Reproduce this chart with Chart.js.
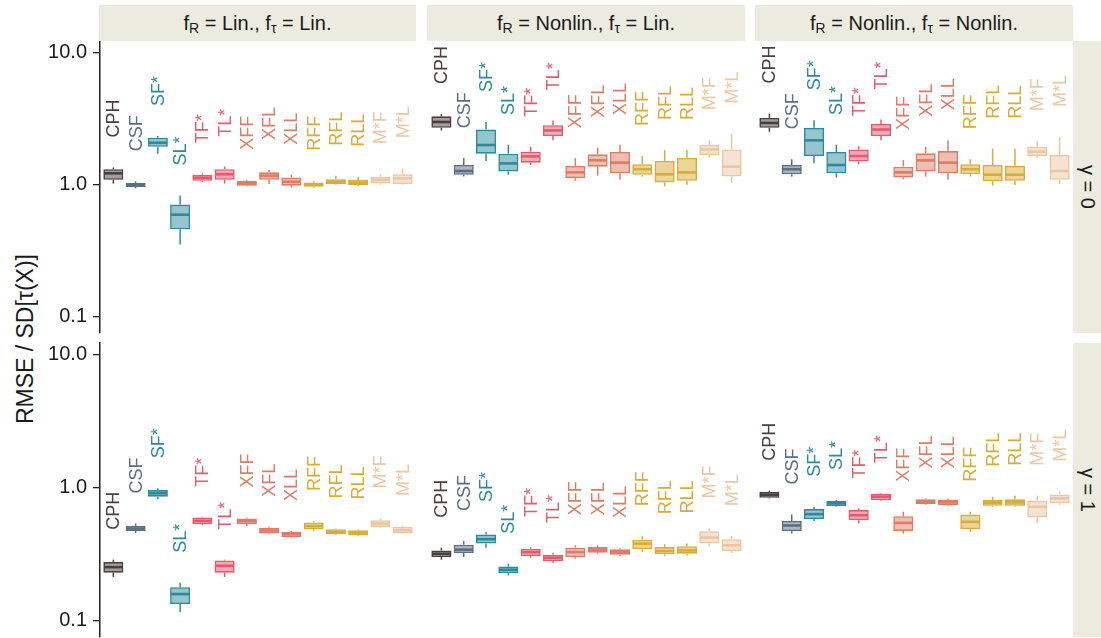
<!DOCTYPE html>
<html><head><meta charset="utf-8">
<script src="https://cdn.jsdelivr.net/npm/chart.js@4.4.1/dist/chart.umd.min.js"></script>
<style>
body{margin:0;width:1101px;height:638px;position:relative;background:#fff;font-family:"Liberation Sans",Arial,sans-serif;overflow:hidden}
canvas{position:absolute}
.strip{position:absolute;background:#ECEBDF;display:flex;align-items:center;justify-content:center;font-size:20px;color:#1a1a1a;white-space:pre}
.strip sub{font-size:14px;vertical-align:baseline;position:relative;top:5px}
.rstrip span{writing-mode:vertical-rl}
#ytitle{position:absolute;left:0;width:50px;top:41px;height:596px;display:flex;align-items:center;justify-content:center}
#ytitle span{writing-mode:vertical-rl;transform:rotate(180deg);font-size:23px;color:#1a1a1a;white-space:pre}
</style></head>
<body>
<div id="ytitle"><span>RMSE / SD[τ(X)]</span></div>
<script>
// ---------- data ----------
const categories = ['CPH','CSF','SF*','SL*','TF*','TL*','XFF','XFL','XLL','RFF','RFL','RLL','M*F','M*L'];
const colTitles = ['f<sub>R</sub> = Lin., f<sub>τ</sub> = Lin.','f<sub>R</sub> = Nonlin., f<sub>τ</sub> = Lin.','f<sub>R</sub> = Nonlin., f<sub>τ</sub> = Nonlin.'];
const rowTitles = ['γ = 0','γ = 1'];
const yTicks = [0.1, 1, 10];
// each box: [lower whisker, q1, median, q3, upper whisker]
const linLin_g0 = [[1.02,1.09,1.22,1.31,1.35],[0.94,0.96,0.99,1.03,1.06],[1.72,1.94,2.08,2.27,2.34],[0.352,0.459,0.592,0.707,0.827],[1.05,1.07,1.13,1.19,1.22],[1.02,1.09,1.20,1.31,1.37],[0.97,0.983,1.03,1.07,1.09],[1.01,1.09,1.17,1.24,1.29],[0.954,0.983,1.053,1.135,1.19],[0.944,0.966,1.005,1.04,1.07],[1.0,1.01,1.053,1.10,1.17],[0.978,0.995,1.035,1.085,1.15],[1.0,1.023,1.09,1.15,1.20],[1.0,1.01,1.115,1.20,1.33]];
const nonlinLin_g0 = [[2.58,2.70,2.99,3.30,3.44],[1.155,1.19,1.27,1.41,1.59],[1.515,1.72,2.0,2.62,2.99],[1.19,1.26,1.45,1.72,2.0],[1.41,1.47,1.64,1.78,1.94],[2.17,2.34,2.58,2.83,3.07],[1.07,1.12,1.24,1.39,1.59],[1.17,1.37,1.53,1.70,1.91],[1.09,1.22,1.47,1.77,2.0],[1.15,1.19,1.31,1.43,1.65],[0.97,1.04,1.20,1.515,1.83],[1.0,1.07,1.24,1.60,1.83],[1.60,1.68,1.85,2.0,2.17],[1.03,1.155,1.37,1.85,2.43]];
const nonlinNonlin_g0 = [[2.52,2.70,2.94,3.21,3.46],[1.15,1.20,1.31,1.41,1.56],[1.455,1.65,2.17,2.70,3.08],[1.135,1.22,1.41,1.77,2.0],[1.43,1.50,1.65,1.85,1.96],[2.17,2.34,2.62,2.89,3.12],[1.10,1.135,1.24,1.37,1.54],[1.15,1.26,1.53,1.73,1.94],[1.09,1.22,1.47,1.80,2.17],[1.155,1.20,1.31,1.43,1.56],[0.983,1.06,1.19,1.41,1.875],[0.995,1.07,1.19,1.39,1.875],[1.59,1.65,1.78,1.94,2.14],[1.01,1.09,1.27,1.68,2.30]];
const linLin_g1 = [[0.212,0.229,0.252,0.275,0.287],[0.456,0.472,0.492,0.515,0.537],[0.817,0.855,0.907,0.96,0.99],[0.115,0.133,0.158,0.178,0.192],[0.522,0.531,0.562,0.597,0.603],[0.212,0.229,0.258,0.283,0.287],[0.515,0.531,0.56,0.586,0.597],[0.446,0.451,0.476,0.50,0.507],[0.42,0.425,0.446,0.464,0.472],[0.47,0.484,0.513,0.547,0.56],[0.44,0.446,0.464,0.487,0.492],[0.433,0.437,0.459,0.478,0.484],[0.50,0.506,0.537,0.569,0.586],[0.446,0.451,0.478,0.506,0.515]];
const nonlinLin_g1 = [[0.287,0.30,0.318,0.337,0.353],[0.30,0.322,0.341,0.372,0.397],[0.353,0.379,0.409,0.443,0.464],[0.218,0.227,0.241,0.255,0.267],[0.297,0.305,0.327,0.347,0.357],[0.272,0.28,0.297,0.313,0.322],[0.292,0.30,0.327,0.353,0.368],[0.318,0.324,0.341,0.357,0.368],[0.305,0.313,0.327,0.343,0.351],[0.327,0.343,0.379,0.406,0.431],[0.305,0.315,0.333,0.357,0.375],[0.309,0.318,0.337,0.362,0.379],[0.364,0.379,0.421,0.47,0.492],[0.322,0.333,0.368,0.409,0.431]];
const nonlinNonlin_g1 = [[0.83,0.84,0.885,0.93,0.95],[0.451,0.47,0.519,0.562,0.629],[0.56,0.579,0.632,0.69,0.718],[0.718,0.725,0.762,0.793,0.807],[0.537,0.569,0.62,0.678,0.698],[0.797,0.807,0.855,0.896,0.907],[0.451,0.472,0.543,0.61,0.658],[0.743,0.753,0.783,0.817,0.83],[0.727,0.736,0.775,0.807,0.83],[0.464,0.487,0.553,0.629,0.658],[0.718,0.73,0.77,0.807,0.855],[0.718,0.73,0.775,0.817,0.87],[0.543,0.597,0.718,0.797,0.87],[0.739,0.762,0.831,0.89,0.93]];

// ---------- styles / layout ----------
const FONT = '"Liberation Sans", Arial, sans-serif';
const groupColors = {CPH:'#4A3F3F', CSF:'#5C6F82', S:'#2C8B9B', T:'#E85A6B', X:'#E07B66', R:'#D8AC36', M:'#EBC6A3'};
const boxColors = categories.map(c => c==='CPH'||c==='CSF' ? groupColors[c] : groupColors[c[0]]);
function alpha(hex,a){const n=parseInt(hex.slice(1),16);return `rgba(${n>>16},${(n>>8)&255},${n&255},${a})`;}
const Y_MIN = 0.075, Y_MAX = 12.3;
const colLeft = [100, 428, 756], colRight = [416, 745, 1073];
const rowTop = [41, 343], rowBottom = [333, 637];
const PAD = 22, LABEL_GAP = 30;
const panels = [[linLin_g0, nonlinLin_g0, nonlinNonlin_g0],[linLin_g1, nonlinLin_g1, nonlinNonlin_g1]];

function line(ctx,x1,y1,x2,y2){ctx.beginPath();ctx.moveTo(x1,y1);ctx.lineTo(x2,y2);ctx.stroke();}

function boxPlugin(boxes){
  return {id:'boxes', afterDatasetsDraw(chart){
    const ctx = chart.ctx, ys = chart.scales.y, meta = chart.getDatasetMeta(0);
    ctx.save();
    boxes.forEach((b,i)=>{
      const el = meta.data[i], x = el.x, w = el.width, col = boxColors[i];
      ctx.strokeStyle = col; ctx.lineCap='butt';
      ctx.lineWidth = 1.5;
      line(ctx, x, ys.getPixelForValue(b[3]), x, ys.getPixelForValue(b[4]));
      line(ctx, x, ys.getPixelForValue(b[1]), x, ys.getPixelForValue(b[0]));
      ctx.lineWidth = 2.6;
      const ym = ys.getPixelForValue(b[2]);
      line(ctx, x - w/2 + 0.8, ym, x + w/2 - 0.8, ym);
      ctx.save();
      ctx.translate(x, ys.getPixelForValue(b[4]) - LABEL_GAP);
      ctx.rotate(-Math.PI/2);
      ctx.font = '18px ' + FONT; ctx.fillStyle = col;
      ctx.textAlign = 'left'; ctx.textBaseline = 'middle';
      ctx.fillText(categories[i], 0, 1);
      ctx.restore();
    });
    ctx.restore();
  }};
}

for (let r=0;r<2;r++){
  for (let c=0;c<3;c++){
    const boxes = panels[r][c];
    const left = c===0 ? 0 : colLeft[c];
    const width = colRight[c] - left;
    const height = rowBottom[r] - rowTop[r] + 2*PAD;
    const cv = document.createElement('canvas');
    cv.width = width; cv.height = height;
    cv.style.left = left+'px'; cv.style.top = (rowTop[r]-PAD)+'px';
    cv.style.width = width+'px'; cv.style.height = height+'px';
    document.body.appendChild(cv);
    const yAxis = {type:'logarithmic', min:Y_MIN, max:Y_MAX, display: c===0,
       afterBuildTicks:s=>{s.ticks = yTicks.map(v=>({value:v}));},
       ticks:{callback:v=>Number(v).toFixed(1), font:{size:20, family:FONT}, color:'#1a1a1a', padding:6, autoSkip:false},
       grid:{drawOnChartArea:false, drawTicks:true, tickLength:7, color:'#222', lineWidth:1.3},
       border:{display:true, color:'#222', width:1.5}};
    if (c===0) yAxis.afterFit = s=>{s.width = colLeft[0];};
    new Chart(cv, {
      type:'bar',
      data:{datasets:[{
        data: boxes.map((b,i)=>({x:i, y:[b[1], b[3]]})),
        backgroundColor: boxColors.map(col=>alpha(col,0.5)),
        borderColor: boxColors,
        borderWidth: 1.6,
        borderSkipped: false,
        barPercentage: 0.9,
        categoryPercentage: 1.0
      }]},
      options:{
        responsive:false, animation:false, devicePixelRatio:1,
        layout:{padding:{top:PAD, bottom:PAD, left:0, right:0}},
        plugins:{legend:{display:false}, tooltip:{enabled:false}},
        scales:{
          x:{type:'linear', min:-0.6, max:categories.length-1+0.6, display:false, offset:false},
          y:yAxis
        }
      },
      plugins:[boxPlugin(boxes)]
    });
  }
}

// strips
colTitles.forEach((t,c)=>{
  const d=document.createElement('div'); d.className='strip';
  d.style.left=(colLeft[c]-1)+'px'; d.style.width=(colRight[c]-colLeft[c]+1)+'px';
  d.style.top='5px'; d.style.height=(rowTop[0]-5)+'px';
  d.innerHTML=t; document.body.appendChild(d);
});
rowTitles.forEach((t,r)=>{
  const d=document.createElement('div'); d.className='strip rstrip';
  d.style.left=colRight[2]+'px'; d.style.width=(1101-colRight[2])+'px';
  d.style.top=rowTop[r]+'px'; d.style.height=(rowBottom[r]-rowTop[r])+'px';
  d.innerHTML='<span>'+t+'</span>'; document.body.appendChild(d);
});
</script>
</body></html>
